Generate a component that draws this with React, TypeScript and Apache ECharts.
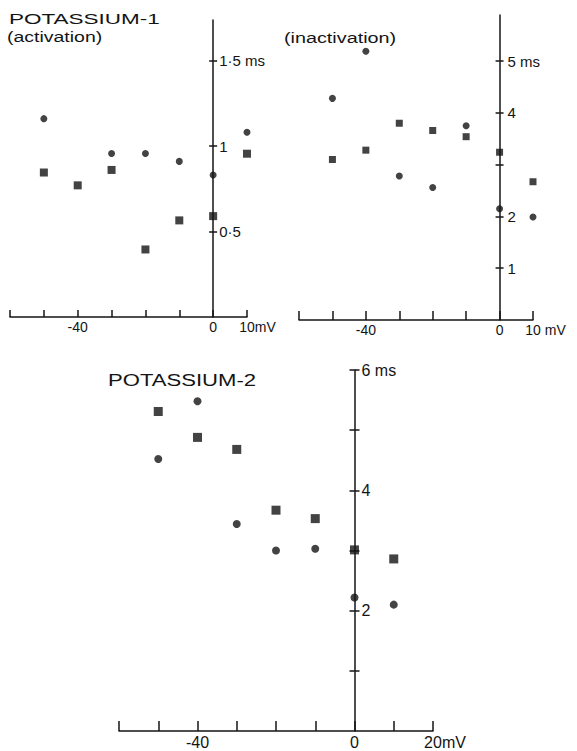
import React, { useEffect, useRef } from "react";
import * as echarts from "echarts";

// ---- data ----
const voltages = [-50, -40, -30, -20, -10, 0, 10];

const k1ActCircles = [1.16, null, 0.956, 0.956, 0.91, 0.83, 1.08];
const k1ActSquares = [0.845, 0.77, 0.86, 0.395, 0.565, 0.59, 0.955];

const k1InactCircles = [4.28, 5.19, 2.78, 2.56, 3.75, 2.15, 1.99];
const k1InactSquares = [3.1, 3.28, 3.8, 3.66, 3.54, 3.24, 2.67];

const k2Circles = [4.52, 5.48, 3.44, 3.0, 3.03, 2.22, 2.1];
const k2Squares = [5.31, 4.88, 4.68, 3.67, 3.53, 3.01, 2.86];

const xTicksK1 = [-60, -50, -40, -30, -20, -10, 0, 10];
const xTicksK2 = [-60, -50, -40, -30, -20, -10, 0, 10, 20];
const xLabelValsK1 = [-40, 0, 10];
const xLabelValsK2 = [-40, 0, 20];

const actYTicks = [0.5, 1, 1.5];
const actYLabelVals = [0.5, 1, 1.5];
const actYLabels = ["0·5", "1", "1·5 ms"];

const inactYTicks = [1, 2, 3, 4, 5];
const inactYLabelVals = [1, 2, 4, 5];
const inactYLabels = ["1", "2", "4", "5 ms"];

const k2YTicks = [1, 2, 3, 4, 5, 6];
const k2YLabelVals = [2, 4, 6];
const k2YLabels = ["2", "4", "6 ms"];

const titles = ["POTASSIUM-1", "(activation)", "(inactivation)", "POTASSIUM-2"];

const INK = "#141414";
const FONT = "Liberation Sans";

function pairs(xs: number[], ys: (number | null)[]) {
  const out: number[][] = [];
  xs.forEach((x, i) => {
    const y = ys[i];
    if (y !== null && y !== undefined) out.push([x, y]);
  });
  return out;
}

function lookup(vals: number[], labels: string[], v: number) {
  for (let i = 0; i < vals.length; i++) {
    if (Math.abs(vals[i] - v) < 1e-6) return labels[i];
  }
  return "";
}

type PanelCfg = {
  idx: number;
  grid: { left: number; top: number; width: number; height: number };
  xMin: number;
  xMax: number;
  xTicks: number[];
  xLabelVals: number[];
  unitSep: string;
  yMax: number;
  yTicks: number[];
  yLabelVals: number[];
  yLabels: string[];
  xTickLen: number;
  yTickLen: number;
  fontSize: number;
  yFontSize: number;
  yLabelMargin: number;
  circles: (number | null)[];
  squares: (number | null)[];
  circleSize: number;
  squareSize: number;
};

function buildPanel(c: PanelCfg) {
  const lineStyle = { color: INK, width: 1.5 };
  const lastX = c.xLabelVals[c.xLabelVals.length - 1];
  const unitText = c.unitSep + "mV";
  const padW = Math.round(c.fontSize * (c.unitSep ? 0.28 : 0) + c.fontSize * 1.5);
  // place the y axis at x = 0 of the value axis
  const zeroOffset = -((0 - c.xMin) / (c.xMax - c.xMin)) * c.grid.width;
  const grid = {
    ...c.grid,
    containLabel: false,
    outerBoundsMode: "none",
  };
  const xAxis = {
    type: "value",
    gridIndex: c.idx,
    min: c.xMin,
    max: c.xMax,
    interval: 10,
    axisLine: { show: true, onZero: false, lineStyle },
    axisTick: {
      show: true,
      inside: true,
      length: c.xTickLen,
      customValues: c.xTicks,
      lineStyle,
    },
    axisLabel: {
      show: true,
      margin: 3,
      customValues: c.xLabelVals,
      color: INK,
      fontFamily: FONT,
      fontSize: c.fontSize,
      formatter: (v: number) => {
        if (Math.abs(v - lastX) < 1e-6) return `{p| }${v}{u|${unitText}}`;
        return String(v);
      },
      rich: {
        p: { width: padW, fontFamily: FONT, fontSize: c.fontSize },
        u: { color: INK, fontFamily: FONT, fontSize: c.fontSize },
      },
    },
    splitLine: { show: false },
  };
  const yMain = {
    type: "value",
    gridIndex: c.idx,
    position: "left",
    offset: zeroOffset,
    min: 0,
    max: c.yMax,
    axisLine: { show: true, onZero: false, lineStyle },
    axisTick: {
      show: true,
      inside: false,
      length: c.yTickLen,
      customValues: c.yTicks,
      lineStyle,
    },
    axisLabel: {
      show: true,
      inside: true,
      margin: c.yLabelMargin,
      customValues: c.yLabelVals,
      color: INK,
      fontFamily: FONT,
      fontSize: c.yFontSize,
      formatter: (v: number) => lookup(c.yLabelVals, c.yLabels, v),
    },
    splitLine: { show: false },
  };
  const yTicks2 = {
    type: "value",
    gridIndex: c.idx,
    position: "left",
    offset: zeroOffset,
    min: 0,
    max: c.yMax,
    axisLine: { show: false, onZero: false },
    axisTick: {
      show: true,
      inside: true,
      length: c.yTickLen,
      customValues: c.yTicks,
      lineStyle,
    },
    axisLabel: { show: false },
    splitLine: { show: false },
  };
  const series = [
    {
      type: "scatter",
      xAxisIndex: c.idx,
      yAxisIndex: c.idx * 2,
      symbol: "circle",
      symbolSize: c.circleSize,
      itemStyle: { color: INK },
      data: pairs(voltages, c.circles),
    },
    {
      type: "scatter",
      xAxisIndex: c.idx,
      yAxisIndex: c.idx * 2,
      symbol: "rect",
      symbolSize: c.squareSize,
      itemStyle: { color: INK },
      data: pairs(voltages, c.squares),
    },
  ];
  return { grid, xAxis, yAxes: [yMain, yTicks2], series };
}

export default function App() {
  const ref = useRef<HTMLDivElement>(null);

  useEffect(() => {
    if (!ref.current) return;
    const chart = echarts.init(ref.current, null, { renderer: "svg" });

    const panels = [
      buildPanel({
        idx: 0,
        grid: { left: 10, top: 20, width: 237, height: 297 },
        xMin: -60,
        xMax: 10,
        xTicks: xTicksK1,
        xLabelVals: xLabelValsK1,
        unitSep: "",
        yMax: 1.737,
        yTicks: actYTicks,
        yLabelVals: actYLabelVals,
        yLabels: actYLabels,
        xTickLen: 7,
        yTickLen: 4,
        fontSize: 14,
        yFontSize: 15,
        yLabelMargin: 6,
        circles: k1ActCircles,
        squares: k1ActSquares,
        circleSize: 7,
        squareSize: 8,
      }),
      buildPanel({
        idx: 1,
        grid: { left: 299, top: 15, width: 234, height: 305 },
        xMin: -60,
        xMax: 10,
        xTicks: xTicksK1,
        xLabelVals: xLabelValsK1,
        unitSep: " ",
        yMax: 5.89,
        yTicks: inactYTicks,
        yLabelVals: inactYLabelVals,
        yLabels: inactYLabels,
        xTickLen: 9,
        yTickLen: 4,
        fontSize: 14,
        yFontSize: 15,
        yLabelMargin: 8,
        circles: k1InactCircles,
        squares: k1InactSquares,
        circleSize: 7,
        squareSize: 7,
      }),
      buildPanel({
        idx: 2,
        grid: { left: 119, top: 370, width: 314, height: 361 },
        xMin: -60,
        xMax: 20,
        xTicks: xTicksK2,
        xLabelVals: xLabelValsK2,
        unitSep: "",
        yMax: 6,
        yTicks: k2YTicks,
        yLabelVals: k2YLabelVals,
        yLabels: k2YLabels,
        xTickLen: 10,
        yTickLen: 5,
        fontSize: 16,
        yFontSize: 16,
        yLabelMargin: 7,
        circles: k2Circles,
        squares: k2Squares,
        circleSize: 8,
        squareSize: 9,
      }),
    ];

    const titleText = (text: string, size: number, x: number, y: number, sx: number) => ({
      type: "group",
      x,
      y,
      scaleX: sx,
      scaleY: 1,
      children: [
        {
          type: "text",
          x: 0,
          y: 0,
          style: {
            text,
            fill: INK,
            fontSize: size,
            fontFamily: FONT,
            align: "left",
            verticalAlign: "middle",
          },
        },
      ],
    });

    chart.setOption({
      animation: false,
      backgroundColor: "#ffffff",
      grid: panels.map((p) => p.grid),
      xAxis: panels.map((p) => p.xAxis),
      yAxis: panels.flatMap((p) => p.yAxes),
      series: panels.flatMap((p) => p.series),
      graphic: [
        titleText(titles[0], 15, 9, 19, 1.5),
        titleText(titles[1], 15, 7, 37, 1.3),
        titleText(titles[2], 15, 284, 38, 1.32),
        titleText(titles[3], 17, 108, 380, 1.3),
      ],
    });

    return () => chart.dispose();
  }, []);

  return (
    <div
      ref={ref}
      style={{ position: "fixed", left: 0, top: 0, width: 577, height: 751, background: "#fff" }}
    />
  );
}
